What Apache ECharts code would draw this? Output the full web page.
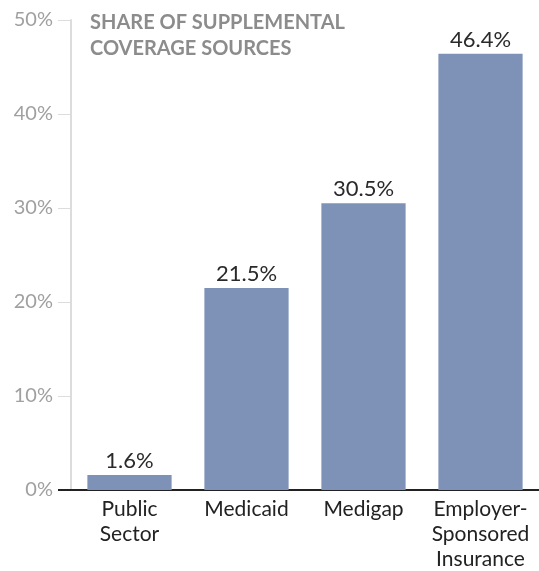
<!DOCTYPE html>
<html>
<head>
<meta charset="utf-8">
<script src="https://cdn.jsdelivr.net/npm/echarts@6/dist/echarts.min.js"></script>
<style>
  html, body { margin: 0; padding: 0; background: #fff; }
  #chart { width: 539px; height: 571px; }
</style>
</head>
<body>
<div id="chart"></div>
<script>
// 数据
var categories = ['Public\nSector', 'Medicaid', 'Medigap', 'Employer-\nSponsored\nInsurance'];
var shares = [1.6, 21.5, 30.5, 46.4];
var titleLines = ['SHARE OF SUPPLEMENTAL', 'COVERAGE SOURCES'];

var chart = echarts.init(document.getElementById('chart'));

var option = {
    animation: false,
    textStyle: { fontFamily: 'Lato' },
    title: {
        text: titleLines.join('\n'),
        left: 85,
        top: 5,
        textStyle: {
            fontFamily: 'Lato',
            fontSize: 20,
            fontWeight: 'bold',
            color: '#8c8c8c',
            lineHeight: 26
        }
    },
    grid: {
        left: 71,
        right: 0,
        top: 20,
        bottom: 81,
        outerBoundsMode: 'none'
    },
    xAxis: {
        type: 'category',
        data: categories,
        axisLine: { lineStyle: { color: '#222', width: 2 } },
        axisTick: { show: false },
        axisLabel: {
            color: '#222',
            fontSize: 21,
            lineHeight: 25,
            margin: 7,
            interval: 0
        }
    },
    yAxis: {
        type: 'value',
        min: 0,
        max: 50,
        interval: 10,
        axisLine: { show: true, lineStyle: { color: '#dcdcdc', width: 2 } },
        axisTick: { show: true, length: 13, lineStyle: { color: '#dcdcdc', width: 1 } },
        splitLine: { show: false },
        axisLabel: {
            formatter: '{value}%',
            color: '#a0a0a0',
            fontSize: 20,
            margin: 18
        }
    },
    // 0% 处黑色基线向左延伸
    graphic: [{
        type: 'line',
        shape: { x1: 58, y1: 490, x2: 72, y2: 490 },
        style: { stroke: '#222', lineWidth: 2 },
        z: 10
    }],
    series: [{
        type: 'bar',
        data: shares,
        barCategoryGap: '28%',
        itemStyle: { color: '#7e92b8' },
        label: {
            show: true,
            position: 'top',
            distance: 3,
            formatter: function (p) { return p.value.toFixed(1) + '%'; },
            color: '#2a2a2a',
            fontSize: 22
        }
    }]
};

chart.setOption(option);
</script>
</body>
</html>
